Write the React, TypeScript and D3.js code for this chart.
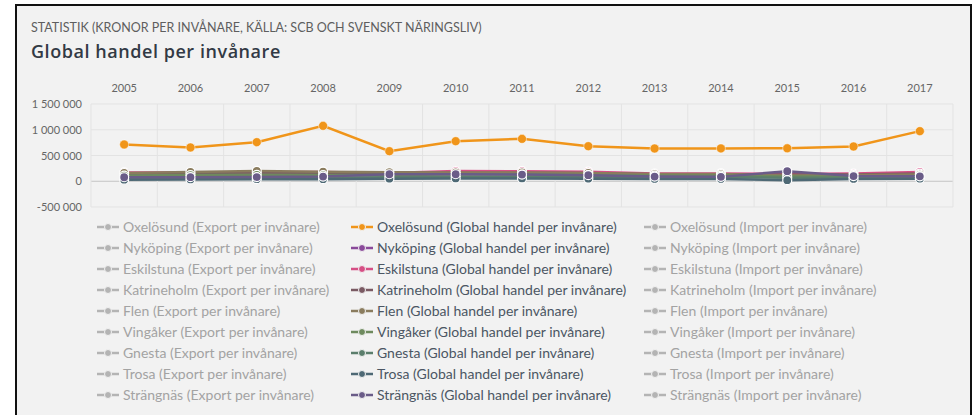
import { useRef, useEffect } from 'react'
import * as d3 from 'd3'

const years = ['2005', '2006', '2007', '2008', '2009', '2010', '2011', '2012', '2013', '2014', '2015', '2016', '2017']

const municipalities = ['Oxelösund', 'Nyköping', 'Eskilstuna', 'Katrineholm', 'Flen', 'Vingåker', 'Gnesta', 'Trosa', 'Strängnäs']

const measures = ['Export per invånare', 'Global handel per invånare', 'Import per invånare']

const globalColors = ['#f0951a', '#8a4a9a', '#d64f85', '#7a5a63', '#8a7c5e', '#6e8a5e', '#5b7e6c', '#4e6975', '#6a5c88']

const yTicks = [-500000, 0, 500000, 1000000, 1500000]

// Global handel per invånare (only visible series)
const oxelosund = [714000, 656000, 759000, 1076000, 584000, 778000, 823000, 681000, 636000, 638000, 640000, 675000, 973000]
const nykoping = [130000, 135000, 140000, 145000, 150000, 155000, 150000, 145000, 130000, 125000, 120000, 125000, 140000]
const eskilstuna = [172000, 170000, 175000, 178000, 160000, 198000, 195000, 185000, 150000, 152000, 140000, 150000, 180000]
const katrineholm = [150000, 160000, 170000, 165000, 165000, 165000, 165000, 160000, 135000, 135000, 130000, 130000, 150000]
const flen = [160000, 180000, 200000, 185000, 175000, 170000, 170000, 160000, 140000, 140000, 110000, 120000, 130000]
const vingaker = [110000, 120000, 125000, 120000, 120000, 130000, 130000, 120000, 110000, 110000, 90000, 90000, 100000]
const gnesta = [60000, 65000, 70000, 75000, 80000, 85000, 85000, 80000, 75000, 75000, 70000, 70000, 80000]
const trosa = [30000, 35000, 40000, 40000, 50000, 55000, 55000, 50000, 45000, 45000, 20000, 45000, 50000]
const strangnas = [78000, 80000, 82000, 90000, 136000, 136000, 130000, 117000, 90000, 85000, 195000, 100000, 95000]

const globalSeries = [oxelosund, nykoping, eskilstuna, katrineholm, flen, vingaker, gnesta, trosa, strangnas]

const FONT = 'Lato, "Open Sans", sans-serif'

function Chart() {
  const ref = useRef<SVGSVGElement>(null)

  useEffect(() => {
    if (!ref.current) return
    const svg = d3.select(ref.current)
    svg.selectAll('*').remove()

    const W = 973
    const H = 415

    // panel
    svg.append('rect').attr('width', W).attr('height', H).attr('fill', '#fff')
    svg.append('rect')
      .attr('x', 16).attr('y', 5).attr('width', 955).attr('height', H)
      .attr('fill', '#f2f2f2').attr('stroke', '#111').attr('stroke-width', 2)

    svg.append('text')
      .attr('x', 31).attr('y', 32)
      .attr('font-family', FONT).attr('font-size', 12.5)
      .attr('fill', '#5e5e5e')
      .text('STATISTIK (KRONOR PER INVÅNARE, KÄLLA: SCB OCH SVENSKT NÄRINGSLIV)')

    svg.append('text')
      .attr('x', 31).attr('y', 58)
      .attr('font-family', '"Open Sans", sans-serif').attr('font-size', 18).attr('font-weight', 600)
      .attr('letter-spacing', 0.55)
      .attr('fill', '#323a45')
      .text('Global handel per invånare')

    const x = d3.scaleBand<string>().domain(years).range([91, 953])
    const cx = (d: string) => (x(d) ?? 0) + x.bandwidth() / 2
    const y = d3.scaleLinear().domain([-500000, 1500000]).range([207, 104])

    const locale = d3.formatLocale({ decimal: ',', thousands: ' ', grouping: [3], currency: ['', ''], minus: '-' })
    const fmt = locale.format(',')

    // grid
    const grid = svg.append('g')
    yTicks.forEach(t => {
      grid.append('line')
        .attr('x1', 91).attr('x2', 953).attr('y1', y(t)).attr('y2', y(t))
        .attr('stroke', t === 0 ? '#c4c4c4' : '#e3e3e3').attr('stroke-width', 1)
    })
    years.forEach(yr => {
      grid.append('line')
        .attr('x1', x(yr)!).attr('x2', x(yr)!).attr('y1', 104).attr('y2', 207)
        .attr('stroke', '#e3e3e3')
    })
    grid.append('line').attr('x1', 953).attr('x2', 953).attr('y1', 104).attr('y2', 207).attr('stroke', '#e3e3e3')

    // axes
    const xAxis = svg.append('g')
      .attr('transform', 'translate(0,92)')
      .call(d3.axisTop(x).tickSize(0).tickPadding(0))
    const yAxis = svg.append('g')
      .attr('transform', 'translate(82,0)')
      .call(d3.axisLeft(y).tickValues(yTicks).tickSize(0).tickPadding(0).tickFormat(d => fmt(d as number)))
    ;[xAxis, yAxis].forEach(a => {
      a.select('.domain').remove()
      a.selectAll('text').attr('font-family', FONT).attr('font-size', 11).attr('fill', '#666')
    })

    // series
    const line = d3.line<number>()
      .x((_, i) => cx(years[i]))
      .y(d => y(d))

    globalSeries.forEach((vals, si) => {
      const g = svg.append('g')
      g.append('path')
        .attr('d', line(vals))
        .attr('fill', 'none')
        .attr('stroke', globalColors[si])
        .attr('stroke-width', 2.5)
      g.selectAll('circle')
        .data(vals)
        .enter()
        .append('circle')
        .attr('cx', (_, i) => cx(years[i]))
        .attr('cy', d => y(d))
        .attr('r', 4.5)
        .attr('fill', globalColors[si])
        .attr('stroke', '#fff')
        .attr('stroke-width', si === 0 ? 0.5 : 1.2)
    })

    // legend
    const colCenters = [108, 362, 655]
    const legend = svg.append('g')
    measures.forEach((m, ci) => {
      municipalities.forEach((name, ri) => {
        const visible = ci === 1
        const sym = visible ? globalColors[ri] : '#b4b4b4'
        const ly = 227 + ri * 21
        const c = colCenters[ci]
        legend.append('line')
          .attr('x1', c - 11).attr('x2', c + 11).attr('y1', ly).attr('y2', ly)
          .attr('stroke', sym).attr('stroke-width', 2.5)
        legend.append('circle')
          .attr('cx', c).attr('cy', ly).attr('r', 3.5)
          .attr('fill', sym).attr('stroke', '#f2f2f2').attr('stroke-width', 1)
        legend.append('text')
          .attr('x', c + 15).attr('y', ly).attr('dy', '0.35em')
          .attr('font-family', FONT).attr('font-size', 14)
          .attr('fill', visible ? '#4b5663' : '#a3a3a3')
          .text(`${name} (${m})`)
      })
    })
  }, [])

  return <svg ref={ref} width={973} height={415} style={{ position: 'absolute', left: 0, top: 0, display: 'block' }} />
}

export default function App() {
  return <Chart />
}
